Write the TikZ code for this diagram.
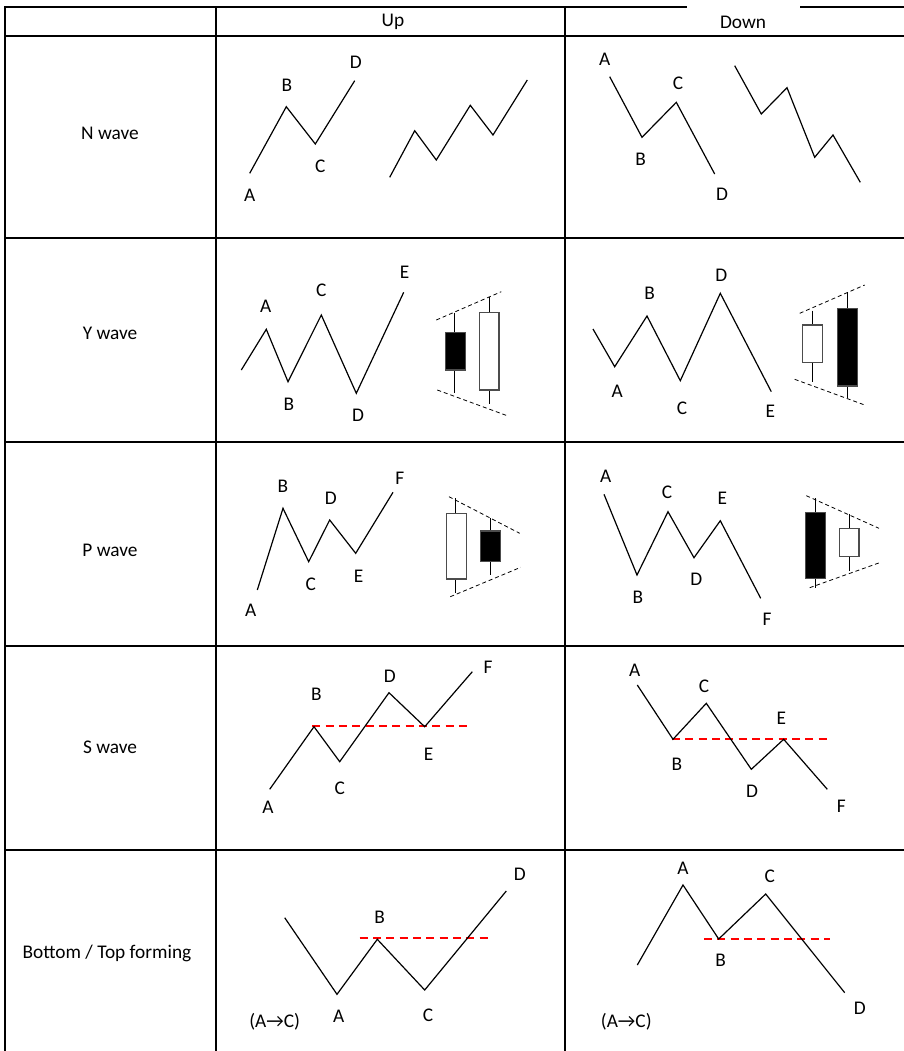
\documentclass[tikz,border=0pt]{standalone}
\usepackage{fontspec}
\setmainfont{Carlito}
\begin{document}
\begin{tikzpicture}[x=0.75pt,y=-0.75pt,
  gridline/.style={line width=1.5pt,line cap=rect},
  wave/.style={line width=0.9pt,line join=miter},
  lbl/.style={font=\fontsize{14.5}{17}\selectfont,inner sep=0pt},
  guide/.style={line width=0.6pt,dash pattern=on 3pt off 2.2pt},
  redd/.style={red,line width=1.4pt,dash pattern=on 6pt off 4pt},
  wick/.style={line width=0.8pt},
  bull/.style={draw=black!70,line width=1pt,fill=white},
  bear/.style={draw=black!70,line width=1pt,fill=black}]
\useasboundingbox (0,0) rectangle (904,1051);
% grid
\draw[gridline] (5,7) -- (686,7);
\draw[gridline] (801,7) -- (904,7);
\foreach \yy in {36,238,442,646,850} \draw[gridline] (5,\yy) -- (906,\yy);
\foreach \xx in {5,216,565} \draw[gridline] (\xx,7) -- (\xx,1053);
% headers
\node[lbl] (hup) at (393,22) {Up};
\node[lbl] (hdown) at (743,22) {Down};
\node[lbl] (rn) at (110,133) {N wave};
\node[lbl] (ry) at (110,333) {Y wave};
\node[lbl] (rp) at (110,550) {P wave};
\node[lbl] (rs) at (110,747) {S wave};
\node[lbl] (rb) at (107,953) {Bottom / Top forming};
% ---- N wave up
\draw[wave] (249.7,173.3) -- (286.3,106.7) -- (315.3,144) -- (354.7,80.7);
\node[lbl] (nuA) at (249.7,195) {A};
\node[lbl] (nuB) at (287,85) {B};
\node[lbl] (nuC) at (320.3,166.7) {C};
\node[lbl] (nuD) at (355.7,62.7) {D};
\draw[wave] (389.7,177.3) -- (414.7,130.7) -- (436.3,160) -- (470.3,105.3) -- (493,135) -- (527.3,80);
% ---- N wave down
\draw[wave] (609.7,76.7) -- (642,137.3) -- (676.3,102.3) -- (714.7,174);
\node[lbl] (ndA) at (604.7,59.3) {A};
\node[lbl] (ndB) at (640.7,159.3) {B};
\node[lbl] (ndC) at (678,83.3) {C};
\node[lbl] (ndD) at (722,194) {D};
\draw[wave] (734.7,65.7) -- (761.3,114) -- (787,87.7) -- (814.7,157.3) -- (833,135) -- (860.3,182.3);
% ---- Y wave up
\draw[wave] (241.3,370) -- (266.3,329.3) -- (288,381.7) -- (321.3,315) -- (356.3,393.3) -- (403.7,292.3);
\node[lbl] (yuA) at (265.7,306.7) {A};
\node[lbl] (yuB) at (289,404) {B};
\node[lbl] (yuC) at (321.3,290.7) {C};
\node[lbl] (yuD) at (358,415.7) {D};
\node[lbl] (yuE) at (404.7,272.3) {E};
\draw[guide] (436.3,320) -- (501.3,291.7);
\draw[guide] (437.3,390) -- (508,416);
\draw[wick] (454.7,312.7) -- (454.7,393.3);
\draw[bear] (445.3,332.7) rectangle (465.3,370);
\draw[wick] (489.7,297.3) -- (489.7,404);
\draw[bull] (479.7,312.3) rectangle (499,390);
% ---- Y wave down
\draw[wave] (593,329) -- (614.7,366.7) -- (647,316) -- (680.3,380.7) -- (720.3,293.3) -- (771.3,391.7);
\node[lbl] (ydA) at (617.3,391.7) {A};
\node[lbl] (ydB) at (649.7,293.3) {B};
\node[lbl] (ydC) at (682,408.3) {C};
\node[lbl] (ydD) at (721.3,275) {D};
\node[lbl] (ydE) at (770.3,411.7) {E};
\draw[guide] (799.7,313.3) -- (864.7,285);
\draw[guide] (794.7,379.3) -- (864.7,405);
\draw[wick] (812.3,310.7) -- (812.3,381.7);
\draw[bull] (802.3,325) rectangle (822.3,362.3);
\draw[wick] (847.3,292.3) -- (847.3,398.3);
\draw[bear] (837.3,308.3) rectangle (857.3,386);
% ---- P wave up
\draw[wave] (257.3,590) -- (283,508.3) -- (308.7,561.7) -- (329.7,520) -- (355.7,553.3) -- (393,492.3);
\node[lbl] (puA) at (250.7,610) {A};
\node[lbl] (puB) at (283,486.7) {B};
\node[lbl] (puC) at (310.7,584.3) {C};
\node[lbl] (puD) at (330.7,498.3) {D};
\node[lbl] (puE) at (358.7,576.7) {E};
\node[lbl] (puF) at (399.7,478.3) {F};
\draw[guide] (449,496.7) -- (519.7,533.3);
\draw[guide] (450.3,596.7) -- (520.7,567.3);
\draw[wick] (455.7,498.3) -- (455.7,593.3);
\draw[bull] (446.3,513.3) rectangle (466.3,579);
\draw[wick] (490.7,518.3) -- (490.7,575);
\draw[bear] (480.7,531) rectangle (500.7,561.7);
% ---- P wave down
\draw[wave] (604,494.3) -- (637,575) -- (668,511.7) -- (694,557.7) -- (720.3,520.7) -- (760.7,598.3);
\node[lbl] (pdA) at (605.7,476.7) {A};
\node[lbl] (pdB) at (638,597.7) {B};
\node[lbl] (pdC) at (667,492.7) {C};
\node[lbl] (pdD) at (696.3,579.3) {D};
\node[lbl] (pdE) at (722.3,498.3) {E};
\node[lbl] (pdF) at (767,619) {F};
\draw[guide] (806.3,495.7) -- (879,528.3);
\draw[guide] (809.7,587.7) -- (880.7,562.3);
\draw[wick] (815.3,498.3) -- (815.3,587.7);
\draw[bear] (805.3,512.7) rectangle (825.3,578.3);
\draw[wick] (849.7,514.3) -- (849.7,571);
\draw[bull] (839.7,528.3) rectangle (859,556.7);
% ---- S wave up
\draw[redd] (312.3,725.7) -- (468,725.7);
\draw[wave] (269.7,789.3) -- (314,726.7) -- (339.7,761.7) -- (389,692.7) -- (424.7,726.7) -- (472.3,671.7);
\node[lbl] (suA) at (268,807.7) {A};
\node[lbl] (suB) at (316.3,694.3) {B};
\node[lbl] (suC) at (339.7,788.3) {C};
\node[lbl] (suD) at (389.7,676) {D};
\node[lbl] (suE) at (428.7,754.3) {E};
\node[lbl] (suF) at (488,667.7) {F};
% ---- S wave down
\draw[redd] (672,739.3) -- (828,739.3);
\draw[wave] (637.3,685) -- (673,739.3) -- (706.3,703.3) -- (751.3,769.3) -- (783.7,739.3) -- (827.3,789.3);
\node[lbl] (sdA) at (634.7,670) {A};
\node[lbl] (sdB) at (677,764) {B};
\node[lbl] (sdC) at (704,686.7) {C};
\node[lbl] (sdD) at (752,791) {D};
\node[lbl] (sdE) at (781.3,718.3) {E};
\node[lbl] (sdF) at (841.3,806.7) {F};
% ---- Bottom forming (up)
\draw[redd] (359.7,938.3) -- (489.7,938.3);
\draw[wave] (284.7,917.7) -- (337,994.3) -- (377.3,939.3) -- (424.7,990) -- (506.3,891);
\node[lbl] (buA) at (338.7,1016) {A};
\node[lbl] (buB) at (379.7,917.3) {B};
\node[lbl] (buC) at (428,1015) {C};
\node[lbl] (buD) at (519.7,874.3) {D};
\node[lbl] (buN) at (274.7,1021.7) {(A→C)};
% ---- Top forming (down)
\draw[redd] (704,939.3) -- (829.7,939.3);
\draw[wave] (637.3,965) -- (683,885) -- (718.7,939) -- (765.7,894) -- (844.7,992.7);
\node[lbl] (bdA) at (683,868.3) {A};
\node[lbl] (bdB) at (720.7,960) {B};
\node[lbl] (bdC) at (769.7,876.7) {C};
\node[lbl] (bdD) at (859.7,1008.3) {D};
\node[lbl] (bdN) at (626.3,1021.7) {(A→C)};
\end{tikzpicture}
\end{document}
